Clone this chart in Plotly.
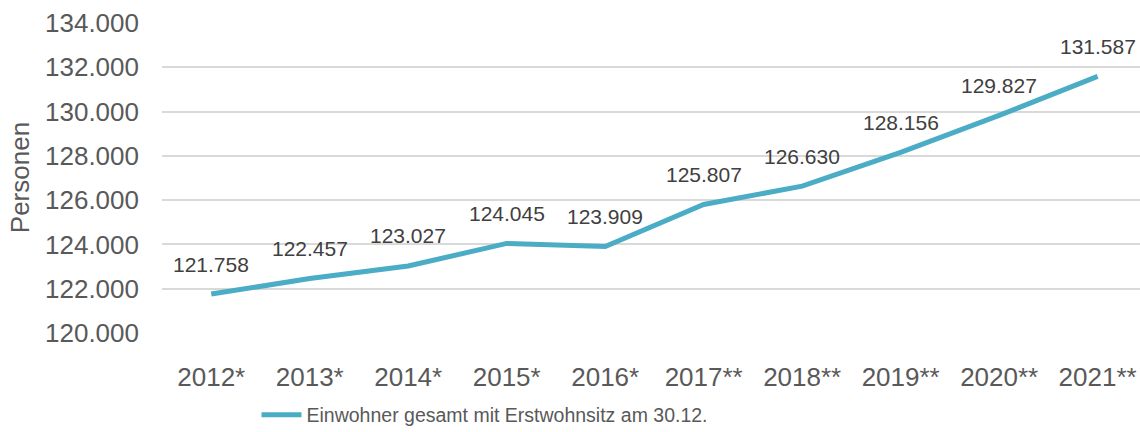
import plotly.graph_objects as go

years = ["2012*", "2013*", "2014*", "2015*", "2016*", "2017**", "2018**", "2019**", "2020**", "2021**"]
einwohner = [121758, 122457, 123027, 124045, 123909, 125807, 126630, 128156, 129827, 131587]
y_ticks = [120000, 122000, 124000, 126000, 128000, 130000, 132000, 134000]
series_name = "Einwohner gesamt mit Erstwohnsitz am 30.12."

def de_fmt(v):
    return f"{v:,}".replace(",", ".")

FONT = "Liberation Sans, Arial, sans-serif"
GRAY = "#595959"

fig = go.Figure()
fig.add_trace(go.Scatter(
    x=years, y=einwohner, mode="lines", name=series_name,
    line=dict(color="#4BACC6", width=5),
))

for x, v in zip(years, einwohner):
    fig.add_annotation(x=x, y=v, text=de_fmt(v), showarrow=False,
                       yshift=30, yanchor="middle",
                       font=dict(family=FONT, size=21, color="#404040"))

fig.add_annotation(xref="paper", yref="paper", x=-0.145, y=0.5, text="Personen",
                   textangle=-90, showarrow=False, xanchor="center", yanchor="middle",
                   font=dict(family=FONT, size=26, color=GRAY))

fig.update_layout(
    width=1140, height=432,
    margin=dict(l=162, r=0, t=23, b=99, autoexpand=False),
    paper_bgcolor="white", plot_bgcolor="white",
    showlegend=True,
    legend=dict(orientation="h", xref="container", yref="container",
                x=0.225, xanchor="left", y=0.039, yanchor="middle",
                itemwidth=40,
                font=dict(family=FONT, size=19.5, color=GRAY)),
    xaxis=dict(type="category", range=[-0.5, 9.43], showgrid=False, zeroline=False,
               showline=False, ticks="", ticklabelstandoff=26, automargin=False,
               tickfont=dict(family=FONT, size=26, color=GRAY)),
    yaxis=dict(range=[120000, 134000], tickvals=y_ticks, ticktext=[de_fmt(t) for t in y_ticks],
               showgrid=True, gridcolor="#D9D9D9", gridwidth=2, zeroline=False,
               showline=False, ticks="", ticklabelstandoff=22, automargin=False,
               tickfont=dict(family=FONT, size=26, color=GRAY)),
)

fig.write_html("out.html", config={"displayModeBar": False},
               post_script="document.body.style.margin='0';document.body.style.overflow='hidden';")
